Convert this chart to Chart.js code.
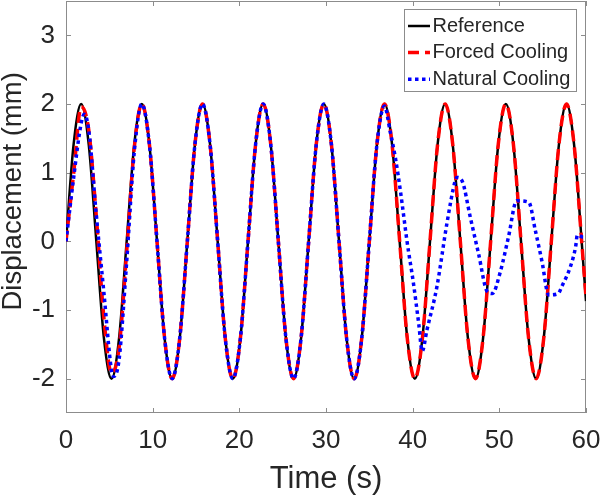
<!DOCTYPE html>
<html>
<head>
<meta charset="utf-8">
<script src="https://cdn.jsdelivr.net/npm/chart.js@4.4.1/dist/chart.umd.min.js"></script>
<style>
  body { margin: 0; background: #fff; }
  canvas { display: block; }
</style>
</head>
<body>
<canvas id="myChart" width="600" height="496"></canvas>
<script>
// time grid shared by Reference and Forced Cooling (s)
var time = [
  0, 0.875, 1.75, 2.625, 3.5, 4.375, 5.25, 6.125,
  7, 7.875, 8.75, 9.625, 10.5, 11.375, 12.25, 13.125,
  14, 14.875, 15.75, 16.625, 17.5, 18.375, 19.25, 20.125,
  21, 21.875, 22.75, 23.625, 24.5, 25.375, 26.25, 27.125,
  28, 28.875, 29.75, 30.625, 31.5, 32.375, 33.25, 34.125,
  35, 35.875, 36.75, 37.625, 38.5, 39.375, 40.25, 41.125,
  42, 42.875, 43.75, 44.625, 45.5, 46.375, 47.25, 48.125,
  49, 49.875, 50.75, 51.625, 52.5, 53.375, 54.25, 55.125,
  56, 56.875, 57.75, 58.625, 59.5, 60
];
var reference = [
  0, 1.41, 2, 1.41, 0, -1.41, -2, -1.41,
  0, 1.41, 2, 1.41, 0, -1.41, -2, -1.41,
  0, 1.41, 2, 1.41, 0, -1.41, -2, -1.41,
  0, 1.41, 2, 1.41, 0, -1.41, -2, -1.41,
  0, 1.41, 2, 1.41, 0, -1.41, -2, -1.41,
  0, 1.41, 2, 1.41, 0, -1.41, -2, -1.41,
  0, 1.41, 2, 1.41, 0, -1.41, -2, -1.41,
  0, 1.41, 2, 1.41, 0, -1.41, -2, -1.41,
  0, 1.41, 2, 1.41, 0, -0.87
];
var forced = [
  0, 0.98, 1.96, 1.62, 0.36, -1.12, -1.92, -1.55,
  -0.15, 1.36, 2, 1.41, 0, -1.41, -2, -1.41,
  0, 1.41, 2, 1.41, 0, -1.41, -2, -1.41,
  0, 1.41, 2, 1.41, 0, -1.41, -2, -1.41,
  0, 1.41, 2, 1.41, 0, -1.41, -2, -1.41,
  0, 1.41, 2, 1.41, 0, -1.41, -2, -1.41,
  0, 1.41, 2, 1.41, 0, -1.41, -2, -1.41,
  0, 1.41, 2, 1.41, 0, -1.41, -2, -1.41,
  0, 1.41, 2, 1.41, 0, -0.81
];
// natural cooling has its own sample times
var naturalTime = [
  0, 0.875, 1.75, 2.1, 2.625, 3.5, 4.375, 5.25, 5.5, 6.125, 7, 7.875,
  8.75, 9.625, 10.5, 11.375, 12.25, 13.125, 14, 14.875,
  15.75, 16.625, 17.5, 18.375, 19.25, 20.125, 21, 21.875,
  22.75, 23.625, 24.5, 25.375, 26.25, 27.125, 28, 28.875,
  29.75, 30.625, 31.5, 32.375, 33.25, 34.125, 35, 35.875, 36.75,
  37.4, 38, 38.6, 39.35, 40.1, 40.7, 41.1, 41.65, 42.8, 43.95, 44.9, 45.1,
  45.7, 46.65, 47.6, 48.6, 49.2, 50.1, 51.05, 52, 53.4, 54.15, 54.9, 55.7,
  56.8, 57.2, 58.2, 58.8, 59, 59.7, 60
];
var natural = [
  0, 0.92, 1.72, 1.85, 1.62, 0.38, -0.75, -1.88, -1.97, -1.72, -0.3, 1.3,
  2, 1.41, 0, -1.41, -2, -1.41, 0, 1.41,
  2, 1.41, 0, -1.41, -2, -1.41, 0, 1.41,
  2, 1.41, 0, -1.41, -2, -1.41, 0, 1.41,
  2, 1.41, 0, -1.41, -2, -1.41, 0, 1.41, 1.97,
  1.6, 1.22, 0.72, 0, -0.62, -1.2, -1.6, -1.29, -0.66, 0.26, 0.88, 0.93,
  0.88, 0.35, -0.18, -0.73, -0.76, -0.45, 0.06, 0.59, 0.57, 0.16, -0.28, -0.78,
  -0.76, -0.66, -0.37, -0.08, 0.09, 0.06, 0.06
];
var xTicks = [0, 10, 20, 30, 40, 50, 60];
var yTicks = [-2, -1, 0, 1, 2, 3];

function pts(xs, ys) {
  return xs.map(function (x, i) { return { x: x, y: ys[i] }; });
}

var FONT = 'Liberation Sans, Arial, Helvetica, sans-serif';
var AXIS = '#8c8c8c';
var TEXT = '#262626';

// MATLAB style box with inward ticks
var framePlugin = {
  id: 'frame',
  beforeDatasetsDraw: function (chart) {
    var c = chart.ctx, a = chart.chartArea;
    var sx = chart.scales.x, sy = chart.scales.y;
    c.save();
    c.strokeStyle = AXIS;
    c.lineWidth = 1;
    c.strokeRect(a.left + 0.5, a.top + 0.5, a.right - a.left - 1, a.bottom - a.top - 1);
    c.beginPath();
    xTicks.forEach(function (v) {
      var px = Math.round(sx.getPixelForValue(v)) + 0.5;
      c.moveTo(px, a.bottom); c.lineTo(px, a.bottom - 5);
      c.moveTo(px, a.top); c.lineTo(px, a.top + 5);
    });
    yTicks.forEach(function (v) {
      var py = Math.round(sy.getPixelForValue(v)) + 0.5;
      c.moveTo(a.left, py); c.lineTo(a.left + 5, py);
      c.moveTo(a.right, py); c.lineTo(a.right - 5, py);
    });
    c.stroke();
    c.restore();
  },
  afterDraw: function (chart) {
    var c = chart.ctx, a = chart.chartArea;
    // y axis title
    c.save();
    c.translate(21, a.top + (a.bottom - a.top) * 0.462);
    c.rotate(-Math.PI / 2);
    c.fillStyle = TEXT;
    c.font = '27.5px ' + FONT;
    c.textAlign = 'center';
    c.textBaseline = 'alphabetic';
    c.fillText('Displacement (mm)', 0, 0);
    c.restore();

    // legend box
    var bx = a.right - 181.5, by = a.top + 8.5, bw = 172, bh = 82;
    c.save();
    c.fillStyle = '#fff';
    c.fillRect(bx, by, bw, bh);
    c.strokeStyle = AXIS;
    c.lineWidth = 1;
    c.strokeRect(bx, by, bw, bh);
    c.font = '20px ' + FONT;
    c.textBaseline = 'middle';
    c.fillStyle = TEXT;
    chart.data.datasets.forEach(function (ds, i) {
      var yy = by + 16.5 + i * 26.6;
      c.save();
      c.strokeStyle = ds.borderColor;
      c.lineWidth = ds.borderWidth;
      c.setLineDash(ds.borderDash || []);
      c.beginPath();
      c.moveTo(bx + 3.5, yy);
      c.lineTo(bx + 25.5, yy);
      c.stroke();
      c.restore();
      c.fillText(ds.label, bx + 28, yy);
    });
    c.restore();
  }
};

var ctx = document.getElementById('myChart').getContext('2d');
var myChart = new Chart(ctx, {
  type: 'line',
  data: {
    datasets: [{
      label: 'Reference',
      data: pts(time, reference),
      borderColor: '#000000',
      borderWidth: 2.5,
      order: 3
    }, {
      label: 'Forced Cooling',
      data: pts(time, forced),
      borderColor: '#ff0000',
      borderWidth: 3.5,
      borderDash: [11, 6],
      order: 2
    }, {
      label: 'Natural Cooling',
      data: pts(naturalTime, natural),
      borderColor: '#0000ff',
      borderWidth: 3.5,
      borderDash: [3.5, 3.5],
      order: 1
    }]
  },
  options: {
    responsive: false,
    animation: false,
    layout: { padding: { top: 1, right: 14, bottom: 0, left: 0 } },
    elements: {
      point: { radius: 0 },
      line: { cubicInterpolationMode: 'monotone', fill: false, borderCapStyle: 'butt' }
    },
    plugins: {
      legend: { display: false },
      tooltip: { enabled: false }
    },
    scales: {
      x: {
        type: 'linear',
        min: 0,
        max: 60,
        grid: { display: false, drawTicks: false },
        border: { display: false },
        ticks: { padding: 12, color: TEXT, font: { family: FONT, size: 26 } },
        afterBuildTicks: function (scale) {
          scale.ticks = xTicks.map(function (v) { return { value: v }; });
        },
        title: {
          display: true,
          text: 'Time (s)',
          color: TEXT,
          padding: 0,
          font: { family: FONT, size: 31, lineHeight: 1.05 }
        },
        afterFit: function (scale) {
          scale.height = 83;
          scale.paddingLeft = 0;
          scale.paddingRight = 0;
        }
      },
      y: {
        min: -2.5,
        max: 3.5,
        grid: { display: false, drawTicks: false },
        border: { display: false },
        ticks: { padding: 11, color: TEXT, font: { family: FONT, size: 26 } },
        afterBuildTicks: function (scale) {
          scale.ticks = yTicks.map(function (v) { return { value: v }; });
        },
        afterFit: function (scale) {
          scale.width = 66;
          scale.paddingTop = 0;
          scale.paddingBottom = 0;
        }
      }
    }
  },
  plugins: [framePlugin]
});
</script>
</body>
</html>
